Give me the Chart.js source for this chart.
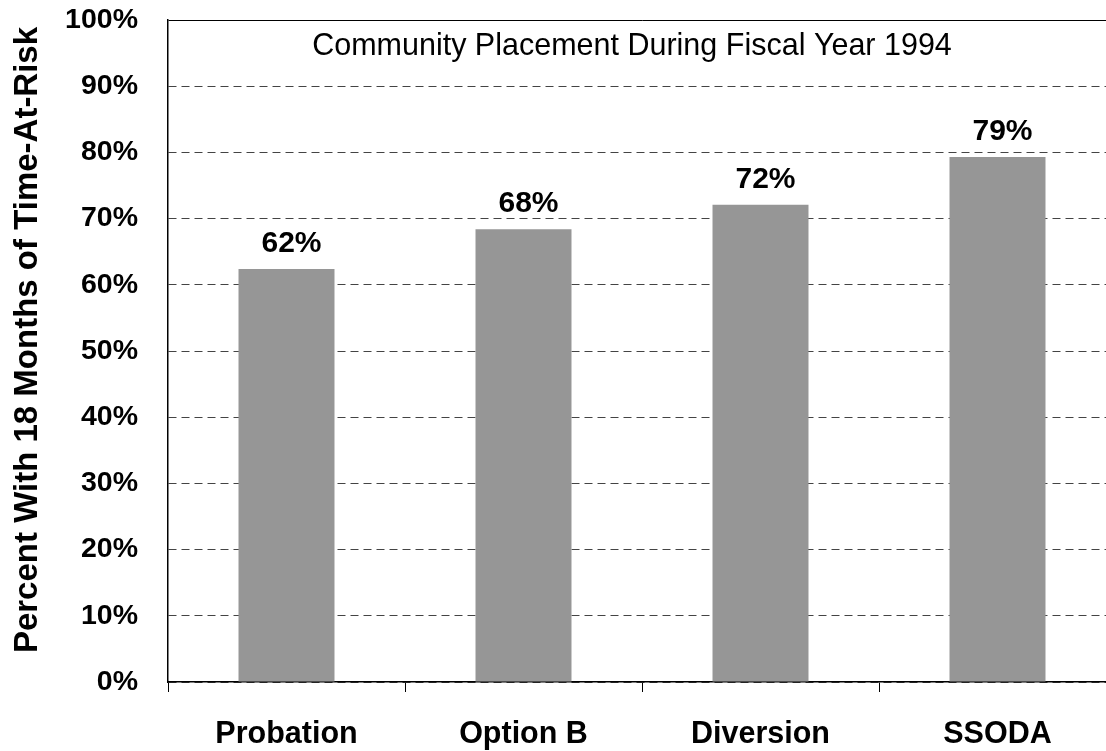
<!DOCTYPE html>
<html>
<head>
<meta charset="utf-8">
<title>Community Placement During Fiscal Year 1994</title>
<script src="https://cdn.jsdelivr.net/npm/chart.js@4/dist/chart.umd.min.js"></script>
<style>
    html, body { margin: 0; padding: 0; background: #fff; overflow: hidden; }
    #wrap { width: 1130px; height: 751px; position: relative; }
</style>
</head>
<body>
<div id="wrap"><canvas id="chart"></canvas></div>
<script>
// Chart data
const categories = ['Probation', 'Option B', 'Diversion', 'SSODA'];
const percentWithTime = [62.4, 68.4, 72.1, 79.3];
const valueLabels = ['62%', '68%', '72%', '79%'];
const yTicks = [0, 10, 20, 30, 40, 50, 60, 70, 80, 90, 100];

const chartTitle = 'Community Placement During Fiscal Year 1994';
const yTitle = 'Percent With 18 Months of Time-At-Risk';

const FONT = 'Arial, "Liberation Sans", Helvetica, sans-serif';

// Draws the value labels, the inner title and the rotated y title
const textPlugin = {
    id: 'textPlugin',
    afterDatasetsDraw(chart) {
        const ctx = chart.ctx;
        const area = chart.chartArea;
        ctx.save();
        ctx.fillStyle = '#000';

        // value labels above bars
        ctx.font = 'bold 30px ' + FONT;
        ctx.textAlign = 'center';
        ctx.textBaseline = 'alphabetic';
        chart.getDatasetMeta(0).data.forEach((bar, i) => {
            ctx.fillText(valueLabels[i], bar.x + 5, bar.y - 17);
        });

        // title inside the plot
        ctx.font = '30.5px ' + FONT;
        ctx.fillText(chartTitle, area.left + area.width / 2 - 10, area.top + 35);

        // y axis title
        ctx.font = 'bold 33px ' + FONT;
        ctx.translate(37, 340);
        ctx.rotate(-Math.PI / 2);
        ctx.fillText(yTitle, 0, 0);
        ctx.restore();
    }
};

const ctx = document.getElementById('chart').getContext('2d');
new Chart(ctx, {
    type: 'bar',
    data: {
        labels: categories,
        datasets: [{
            data: percentWithTime,
            backgroundColor: '#969696',
            borderWidth: 0,
            barPercentage: 0.405,
            categoryPercentage: 1.0
        }]
    },
    options: {
        responsive: true,
        maintainAspectRatio: false,
        animation: false,
        layout: {
            padding: { top: 20, right: 14, bottom: 0, left: 0 }
        },
        plugins: {
            legend: { display: false },
            tooltip: { enabled: false }
        },
        scales: {
            x: {
                grid: {
                    offset: true,
                    drawOnChartArea: false,
                    drawTicks: true,
                    tickLength: 10,
                    tickColor: '#000',
                    tickWidth: 1
                },
                border: { display: true, color: '#000', width: 1.5 },
                ticks: {
                    color: '#000',
                    font: { family: FONT, size: 30.5, weight: 'bold' },
                    padding: 24,
                    maxRotation: 0
                },
                afterFit(scale) {
                    scale.height = 69;
                    scale.paddingLeft = 0;
                    scale.paddingRight = 0;
                }
            },
            y: {
                min: 0,
                max: 100,
                afterBuildTicks(scale) {
                    scale.ticks = yTicks.map(v => ({ value: v }));
                },
                grid: {
                    drawTicks: false,
                    color: ctx => ctx.tick && ctx.tick.value === 100 ? '#000' : '#444',
                    lineWidth: 1
                },
                border: {
                    display: true,
                    color: '#000',
                    width: 1.5,
                    dash: ctx => (ctx.tick && ctx.tick.value === 100) ? [] : [8, 5]
                },
                ticks: {
                    color: '#000',
                    font: { family: FONT, size: 28.5, weight: 'bold' },
                    padding: 30,
                    callback: v => v + '%'
                },
                afterFit(scale) {
                    scale.width = 168;
                    scale.paddingTop = 0;
                    scale.paddingBottom = 0;
                }
            }
        }
    },
    plugins: [textPlugin]
});
</script>
</body>
</html>
